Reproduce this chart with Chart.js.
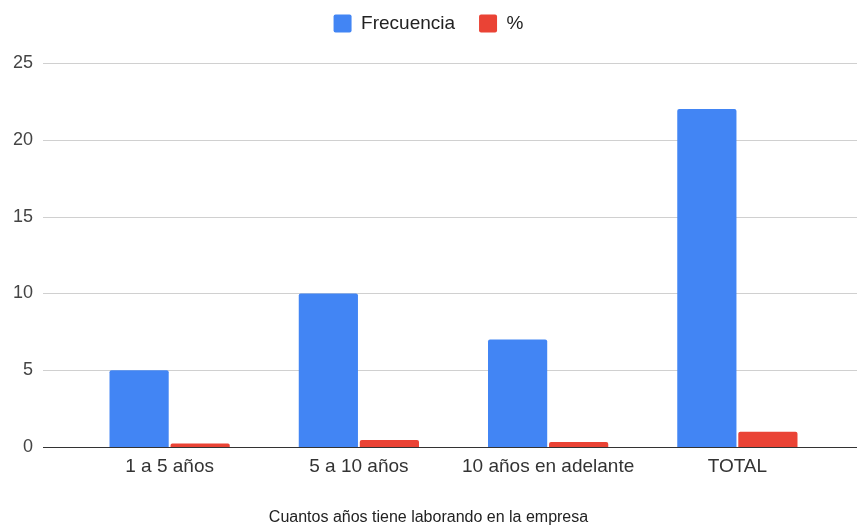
<!DOCTYPE html>
<html>
<head>
<meta charset="utf-8">
<script src="https://cdn.jsdelivr.net/npm/chart.js@4.4.1/dist/chart.umd.min.js"></script>
<style>
  html, body { margin: 0; padding: 0; background: #fff; }
  #chart { display: block; }
</style>
</head>
<body>
<canvas id="chart" width="857" height="525"></canvas>
<script>
// Data
const categories = ['1 a 5 años', '5 a 10 años', '10 años en adelante', 'TOTAL'];
const frecuencia = [5, 10, 7, 22];
const porcentaje = [0.23, 0.45, 0.32, 1];
const yTicks = [0, 5, 10, 15, 20, 25];
const axisTitle = 'Cuantos años tiene laborando en la empresa';

const FONT = "Arial, 'Liberation Sans', sans-serif";

// Horizontal gridlines run wider than the plot area, from just past the tick labels to the edge
const gridPlugin = {
  id: 'wideGrid',
  beforeInit(chart) {
    // extra room under the legend
    const fit = chart.legend.fit;
    chart.legend.fit = function () {
      fit.call(this);
      this.height += 20;
    };
  },
  afterLayout(chart) {
    // center legend and title on the whole canvas, not the padded area
    const legend = chart.legend;
    legend.right = chart.width;
    legend.width = chart.width;
    legend.adjustHitBoxes();
    if (chart.titleBlock) {
      chart.titleBlock.right = chart.width;
      chart.titleBlock.width = chart.width;
    }
  },
  beforeDatasetsDraw(chart) {
    const { ctx, scales: { y } } = chart;
    ctx.save();
    ctx.strokeStyle = '#d0d0d0';
    ctx.lineWidth = 1;
    yTicks.forEach(v => {
      if (v === 0) return;
      const py = Math.round(y.getPixelForValue(v)) + 0.5;
      ctx.beginPath();
      ctx.moveTo(43, py);
      ctx.lineTo(chart.width, py);
      ctx.stroke();
    });
    ctx.restore();
  },
  afterDatasetsDraw(chart) {
    const { ctx, scales: { y } } = chart;
    const py = Math.round(y.getPixelForValue(0)) + 0.5;
    ctx.save();
    ctx.strokeStyle = '#333';
    ctx.lineWidth = 1;
    ctx.beginPath();
    ctx.moveTo(43, py);
    ctx.lineTo(chart.width, py);
    ctx.stroke();
    ctx.restore();
  }
};

new Chart(document.getElementById('chart'), {
  type: 'bar',
  data: {
    labels: categories,
    datasets: [
      {
        label: 'Frecuencia',
        data: frecuencia,
        backgroundColor: '#4285F4',
        borderRadius: { topLeft: 2, topRight: 2 },
        borderSkipped: 'bottom'
      },
      {
        label: '%',
        data: porcentaje,
        backgroundColor: '#EA4335',
        borderRadius: { topLeft: 2, topRight: 2 },
        borderSkipped: 'bottom'
      }
    ]
  },
  options: {
    responsive: false,
    animation: false,
    layout: { padding: { top: -10, right: 25, bottom: 0, left: 0 } },
    datasets: {
      bar: { categoryPercentage: 0.645, barPercentage: 0.97 }
    },
    scales: {
      x: {
        grid: { display: false },
        border: { display: false },
        ticks: { color: '#333', font: { family: FONT, size: 19 }, padding: 0, maxRotation: 0 }
      },
      y: {
        min: 0,
        max: 25,
        afterFit(scale) { scale.width = 75; },
        afterBuildTicks(scale) { scale.ticks = yTicks.map(v => ({ value: v })); },
        grid: { display: false, drawTicks: false },
        border: { display: false },
        ticks: { color: '#444', font: { family: FONT, size: 18 }, padding: 42 }
      }
    },
    plugins: {
      legend: {
        position: 'top',
        labels: {
          boxWidth: 18,
          boxHeight: 18,
          useBorderRadius: true,
          borderRadius: 2,
          padding: 24,
          color: '#222',
          font: { family: FONT, size: 19 }
        }
      },
      title: {
        display: true,
        position: 'bottom',
        text: axisTitle,
        color: '#222',
        font: { family: FONT, size: 16, weight: 'normal' },
        padding: { top: 30, bottom: -2 }
      },
      tooltip: { enabled: false }
    }
  },
  plugins: [gridPlugin]
});
</script>
</body>
</html>
